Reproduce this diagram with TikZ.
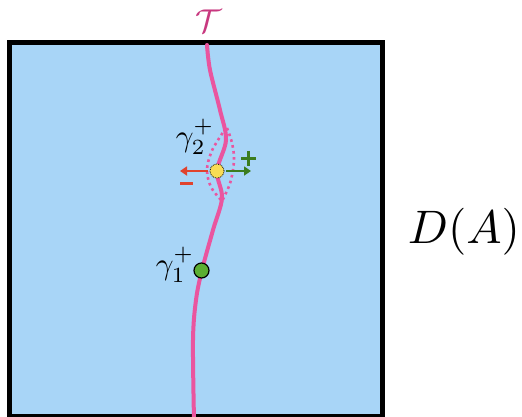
\documentclass[tikz,border=0pt]{standalone}
\usetikzlibrary{arrows.meta}
\definecolor{bgblue}{HTML}{A8D5F7}
\definecolor{curvepink}{HTML}{EA559F}
\definecolor{taupink}{HTML}{C8387F}
\definecolor{arrred}{HTML}{E0432E}
\definecolor{arrgreen}{HTML}{3B7D1F}
\definecolor{dotyellow}{HTML}{F9DC55}
\definecolor{dotgreen}{HTML}{5BAE33}
\tikzset{
  curvestyle/.style={draw=curvepink, line width=4pt, line cap=round},
  lensstyle/.style={draw=curvepink, line width=2.6pt, dash pattern=on 2.6pt off 3.4pt},
  pointlabel/.style={scale=3.1, inner sep=0pt},
  signstyle/.style={line width=3pt},
}
\begin{document}
\begin{tikzpicture}[x=1pt,y=-1pt]
\useasboundingbox (0,0) rectangle (522,416);
\fill[white] (0,0) rectangle (522,416);
\draw[line width=5pt, fill=bgblue] (9.5,42.5) rectangle (382,416.5);
\draw[curvestyle] plot[smooth, tension=0.55] coordinates {(207,45) (210,70) (220,110) (226,140) (217,171) (222,198) (213,230) (202,270) (196,300) (193,340) (194,420)};
\draw[lensstyle] plot[smooth, tension=0.6] coordinates {(226,128) (218,140) (211,153) (207,170) (211,187) (222,201)};
\draw[lensstyle] plot[smooth, tension=0.6] coordinates {(227,128) (232,143) (234,160) (231,180) (226,193) (222,201)};
\node[circle, draw=black, densely dotted, line width=0.8pt, fill=dotyellow, minimum size=14pt, inner sep=0pt] (g2) at (217,171) {};
\node[circle, draw=black, line width=1.2pt, fill=dotgreen, minimum size=15pt, inner sep=0pt] (g1) at (201.5,270.5) {};
\coordinate (lefttip) at (180,171);
\coordinate (righttip) at (251,171);
\draw[arrred, line width=2.8pt, -{Triangle[length=7pt,width=9pt]}] (g2.west) ++(-2,0) -- (lefttip);
\draw[arrgreen, line width=2.8pt, -{Triangle[length=7pt,width=9pt]}] (g2.east) ++(2,0) -- (righttip);
\draw[arrred, signstyle] (180,183.5) -- (193,183.5);
\draw[arrgreen, signstyle] (241,158) -- (256,158);
\draw[arrgreen, signstyle] (248.5,150.5) -- (248.5,165.5);
\node[pointlabel] (l2) at (195,137) {$\gamma_2^+$};
\node[pointlabel] (l1) at (175,265) {$\gamma_1^+$};
\node[text=taupink, scale=3.3, inner sep=0pt] (tau) at (209,21) {$\mathcal{T}$};
\node[scale=4.7, inner sep=0pt] (da) at (464,232) {$D(A)$};
\end{tikzpicture}
\end{document}
